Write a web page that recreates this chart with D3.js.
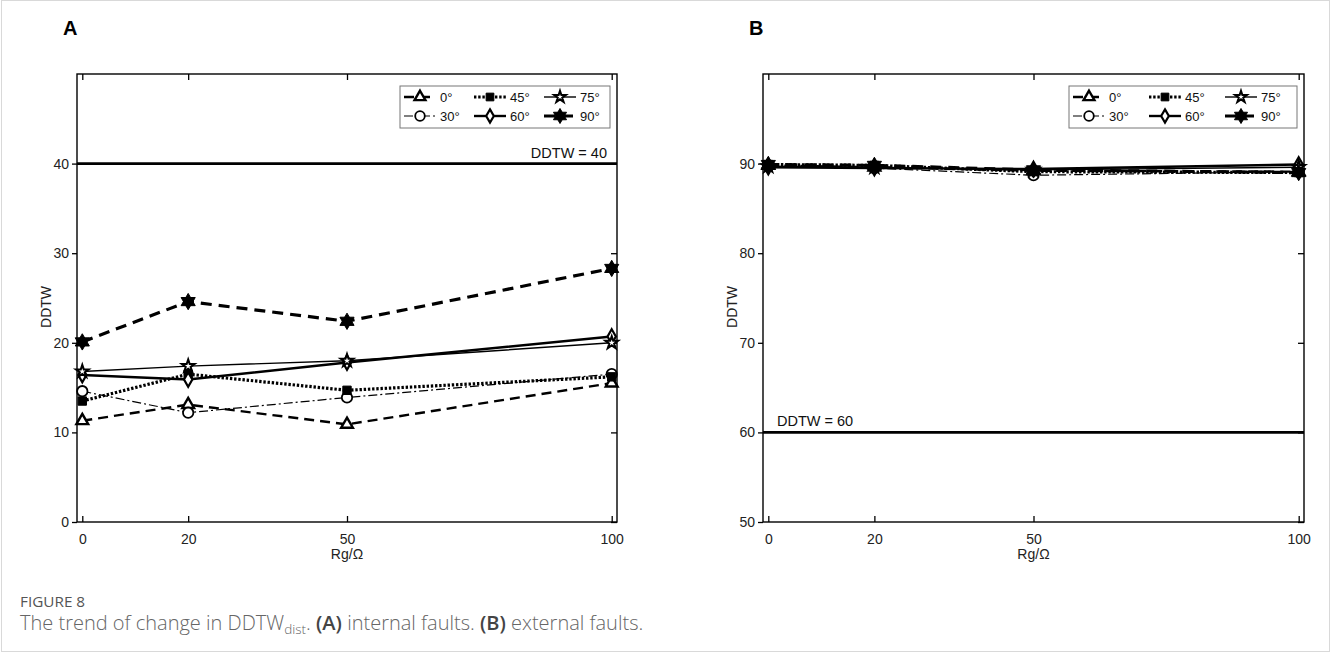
<!DOCTYPE html>
<html>
<head>
<meta charset="utf-8">
<script src="https://cdn.jsdelivr.net/npm/d3@7"></script>
<style>
  body { margin: 0; background: #fff; }
  svg text { font-family: "Liberation Sans", Arial, sans-serif; }
</style>
</head>
<body>
<svg id="chart" width="1331" height="653"></svg>
<script>
// data
var rg = [0, 20, 50, 100];
var xTicks = [0, 20, 50, 100];
var angles = ["0°", "30°", "45°", "60°", "75°", "90°"];

// (A) internal faults
var int0  = [11.3, 13.1, 10.9, 15.5];
var int30 = [14.6, 12.2, 13.9, 16.5];
var int45 = [13.5, 16.5, 14.7, 16.2];
var int60 = [16.4, 15.9, 17.8, 20.7];
var int75 = [16.8, 17.4, 18.0, 20.0];
var int90 = [20.1, 24.6, 22.4, 28.3];

// (B) external faults
var ext0  = [89.8, 89.6, 89.2, 89.1];
var ext30 = [89.7, 89.5, 88.7, 89.1];
var ext45 = [89.9, 89.8, 89.1, 89.0];
var ext60 = [89.6, 89.5, 89.4, 89.9];
var ext75 = [89.7, 89.6, 89.3, 89.6];
var ext90 = [89.9, 89.8, 89.3, 89.0];

var yTicksA = [0, 10, 20, 30, 40];
var yTicksB = [50, 60, 70, 80, 90];

var svg = d3.select("#chart");

// light card border
svg.append("rect")
    .attr("x", 1.5).attr("y", 0.5)
    .attr("width", 1328).attr("height", 651)
    .attr("fill", "none")
    .attr("stroke", "#d9d9d9");

// hexagram symbol (two overlapping triangles)
var hexagram = {
  draw: function(ctx, size) {
    var r = Math.sqrt(size / 1.2);
    for (var k = 0; k < 2; k++) {
      for (var i = 0; i < 3; i++) {
        var a = (k * 60 + i * 120 - 90) * Math.PI / 180;
        if (i === 0) ctx.moveTo(r * Math.cos(a), r * Math.sin(a));
        else ctx.lineTo(r * Math.cos(a), r * Math.sin(a));
      }
      ctx.closePath();
    }
  }
};

// per-series styles
var styles = [
  {dash: "10,6",      width: 2.4, sym: d3.symbolTriangle, size: 60, fill: "#fff", sw: 2.4},
  {dash: "9,3,2,3",   width: 1.2, sym: d3.symbolCircle,   size: 85, fill: "#fff", sw: 1.8},
  {dash: "2.4,1.8",   width: 3.2, sym: d3.symbolSquare,   size: 70, fill: "#000", sw: 1},
  {dash: null,        width: 2.4, sym: d3.symbolDiamond,  size: 60, fill: "#fff", sw: 2.2},
  {dash: null,        width: 1.4, sym: d3.symbolStar,     size: 50, fill: "#fff", sw: 2},
  {dash: "11,7",      width: 3.2, sym: hexagram,          size: 80, fill: "#000", sw: 1}
];

function panel(opt) {
  var x = d3.scaleLinear().domain([-1, 101]).range([opt.left, opt.right]);
  var y = d3.scaleLinear().domain(opt.yDomain).range([522, 74]);
  var g = svg.append("g");

  // panel letter
  g.append("text")
      .attr("x", opt.left - 14).attr("y", 35)
      .attr("font-size", 20).attr("font-weight", "bold")
      .text(opt.letter);

  // box
  g.append("rect")
      .attr("x", opt.left).attr("y", 74)
      .attr("width", opt.right - opt.left).attr("height", 448)
      .attr("fill", "none").attr("stroke", "#000").attr("stroke-width", 1.4);

  // bottom axis, ticks inward
  var xb = g.append("g").attr("transform", "translate(0,522)")
      .call(d3.axisBottom(x).tickValues(xTicks).tickSize(-6).tickPadding(12));
  xb.select(".domain").remove();
  // top ticks inward
  var xt = g.append("g").attr("transform", "translate(0,74)")
      .call(d3.axisTop(x).tickValues(xTicks).tickSize(-6).tickFormat(""));
  xt.select(".domain").remove();
  // left axis, ticks outward
  var yl = g.append("g").attr("transform", "translate(" + opt.left + ",0)")
      .call(d3.axisLeft(y).tickValues(opt.yTicks).tickSize(5).tickPadding(3));
  yl.select(".domain").remove();
  // right ticks inward
  var yr = g.append("g").attr("transform", "translate(" + opt.right + ",0)")
      .call(d3.axisRight(y).tickValues(opt.yTicks).tickSize(-6).tickFormat(""));
  yr.select(".domain").remove();

  g.selectAll(".tick line").attr("stroke", "#000").attr("stroke-width", 1.3);
  g.selectAll(".tick text")
      .attr("font-family", "Liberation Sans, Arial, sans-serif")
      .attr("font-size", 14).attr("fill", "#222");

  // axis labels
  g.append("text")
      .attr("x", (opt.left + opt.right) / 2).attr("y", 559)
      .attr("text-anchor", "middle").attr("font-size", 14).attr("fill", "#222")
      .text("Rg/Ω");
  g.append("text")
      .attr("transform", "translate(" + (opt.left - 26) + "," + y((opt.yDomain[0] + opt.yDomain[1]) / 2 - 1) + ") rotate(-90)")
      .attr("text-anchor", "middle").attr("font-size", 14).attr("fill", "#222")
      .text("DDTW");

  // threshold line
  g.append("line")
      .attr("x1", opt.left).attr("x2", opt.right)
      .attr("y1", y(opt.threshold)).attr("y2", y(opt.threshold))
      .attr("stroke", "#000").attr("stroke-width", 2.8);
  g.append("text")
      .attr("x", opt.thrLabelX).attr("y", y(opt.threshold) - 6)
      .attr("text-anchor", opt.thrAnchor)
      .attr("font-size", 14.5).attr("fill", "#111")
      .text("DDTW = " + opt.threshold);

  // series
  var line = d3.line().x(function(d) { return x(d[0]); }).y(function(d) { return y(d[1]); });
  opt.series.forEach(function(vals, i) {
    var s = styles[i];
    var pts = rg.map(function(r, j) { return [r, vals[j]]; });
    g.append("path")
        .datum(pts)
        .attr("d", line)
        .attr("fill", "none")
        .attr("stroke", "#000")
        .attr("stroke-width", s.width)
        .attr("stroke-dasharray", s.dash);
    g.selectAll(null)
        .data(pts)
        .enter().append("path")
        .attr("transform", function(d) { return "translate(" + x(d[0]) + "," + y(d[1]) + ")"; })
        .attr("d", d3.symbol().type(s.sym).size(s.size))
        .attr("fill", s.fill)
        .attr("stroke", "#000")
        .attr("stroke-width", s.sw);
  });

  // legend
  var lw = opt.legendW, lx = opt.right - 7 - lw, ly = 86;
  var lg = g.append("g");
  lg.append("rect")
      .attr("x", lx).attr("y", ly).attr("width", lw).attr("height", 42)
      .attr("fill", "#fff").attr("stroke", "#777").attr("stroke-width", 1);
  var colW = lw / 3;
  // order: row 1 -> 0°,45°,75°; row 2 -> 30°,60°,90°
  var order = [0, 2, 4, 1, 3, 5];
  order.forEach(function(si, k) {
    var col = k % 3, row = Math.floor(k / 3);
    var s = styles[si];
    var ex = lx + 4 + col * colW, ey = ly + 11 + row * 19;
    lg.append("line")
        .attr("x1", ex).attr("x2", ex + 32)
        .attr("y1", ey).attr("y2", ey)
        .attr("stroke", "#000").attr("stroke-width", s.width)
        .attr("stroke-dasharray", s.dash);
    lg.append("path")
        .attr("transform", "translate(" + (ex + 16) + "," + ey + ")")
        .attr("d", d3.symbol().type(s.sym).size(s.size * 0.85))
        .attr("fill", s.fill).attr("stroke", "#000").attr("stroke-width", s.sw);
    lg.append("text")
        .attr("x", ex + 36).attr("y", ey + 4.5)
        .attr("font-size", 13).attr("fill", "#111")
        .text(angles[si]);
  });
}

panel({
  letter: "A", left: 77, right: 617, yDomain: [0, 50], yTicks: yTicksA,
  threshold: 40, thrLabelX: 607, thrAnchor: "end", legendW: 210,
  series: [int0, int30, int45, int60, int75, int90]
});

panel({
  letter: "B", left: 763, right: 1304, yDomain: [50, 100], yTicks: yTicksB,
  threshold: 60, thrLabelX: 777, thrAnchor: "start", legendW: 228,
  series: [ext0, ext30, ext45, ext60, ext75, ext90]
});

// caption
var cap = svg.append("g");
cap.append("text")
    .attr("x", 20).attr("y", 607)
    .attr("font-size", 15.3).attr("fill", "#555")
    .style("font-family", "'Open Sans', sans-serif")
    .text("FIGURE 8");
var t = cap.append("text")
    .attr("x", 20).attr("y", 630)
    .attr("font-size", 20).attr("fill", "#666")
    .style("font-family", "'Open Sans', sans-serif")
    .style("font-weight", 300);
t.append("tspan").text("The trend of change in DDTW");
t.append("tspan").attr("font-size", 13.5).attr("dy", 4).text("dist");
t.append("tspan").attr("dy", -4).text(". ");
t.append("tspan").style("font-weight", 600).attr("fill", "#444").text("(A)");
t.append("tspan").text(" internal faults. ");
t.append("tspan").style("font-weight", 600).attr("fill", "#444").text("(B)");
t.append("tspan").text(" external faults.");
</script>
</body>
</html>
